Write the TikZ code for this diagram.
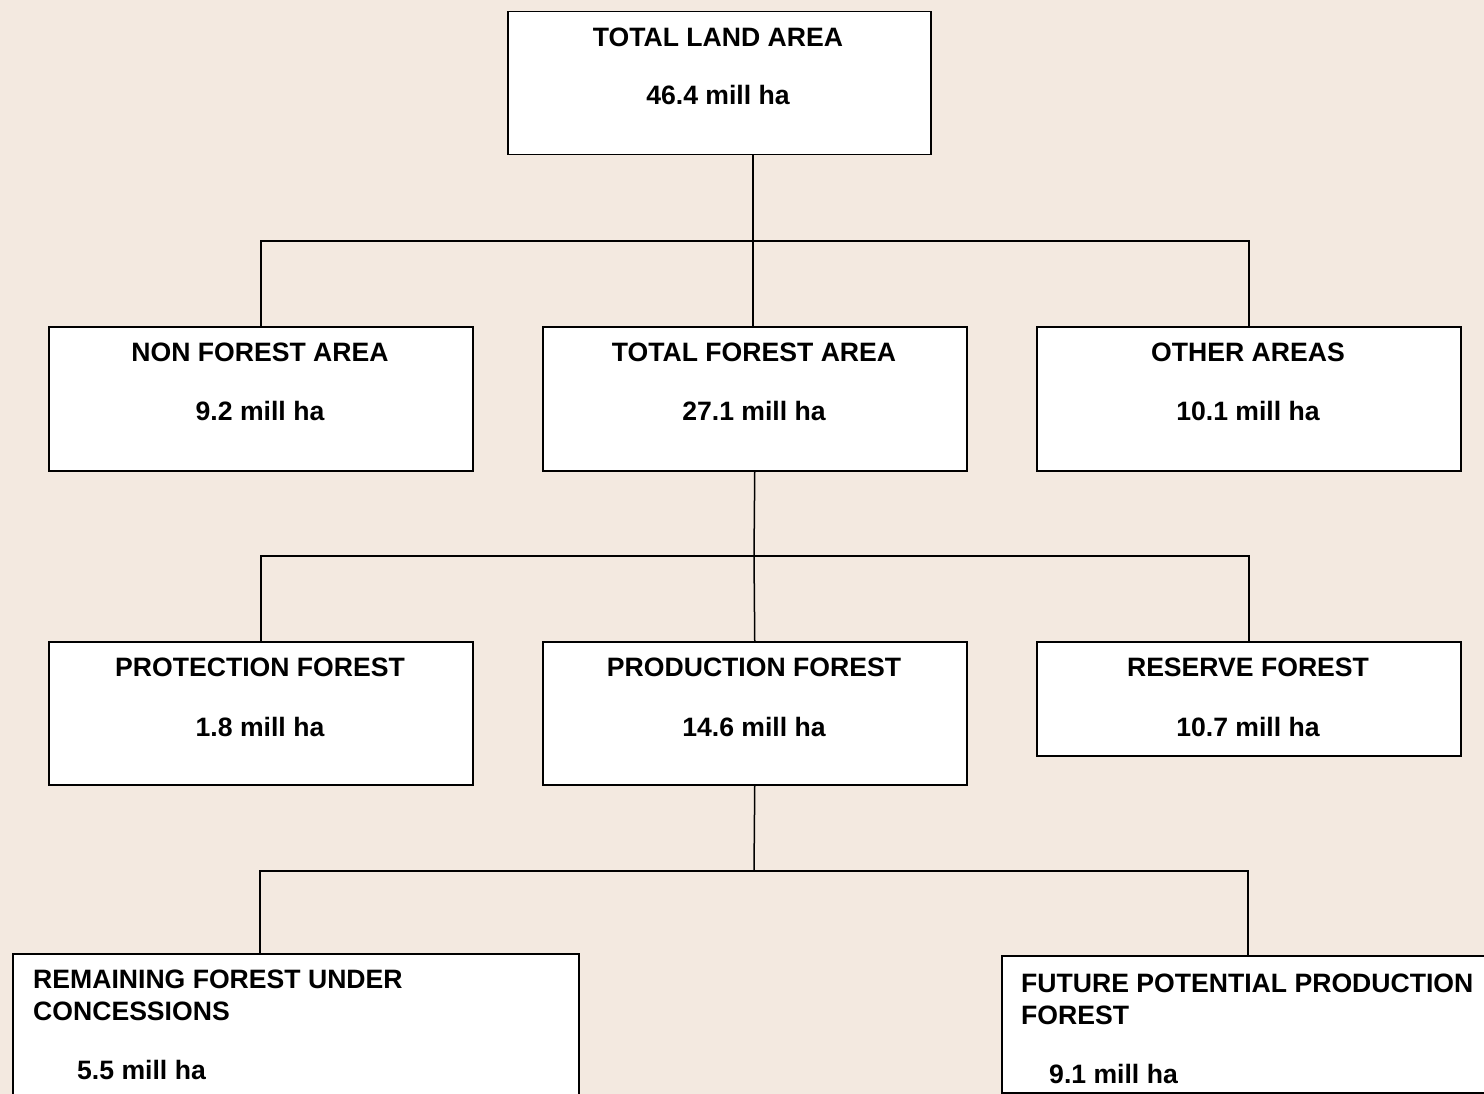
\documentclass[tikz,border=0pt]{standalone}
\usepackage{fontspec}
\setmainfont{Liberation Sans}
\definecolor{bgcol}{RGB}{243,233,224}
\begin{document}
\begin{tikzpicture}[x=1pt,y=-1pt,
  box/.style={draw=black, fill=white, line width=1.5pt, rectangle, inner sep=0pt, anchor=north west},
  lbl/.style={font=\fontsize{26.6}{32}\selectfont\bfseries, inner sep=0pt, anchor=base},
  lbll/.style={lbl, anchor=base west},
  conn/.style={line width=1.5pt}]
\useasboundingbox (0,0) rectangle (1484,1094);
\clip (0,0) rectangle (1484,1094);
\fill[bgcol] (0,0) rectangle (1484,1094);
% boxes
\node[box, minimum width=423pt, minimum height=143pt] (land) at (507,11) {};
\node[box, minimum width=424pt, minimum height=144pt] (nonf) at (48,326) {};
\node[box, minimum width=424pt, minimum height=144pt] (tfor) at (542,326) {};
\node[box, minimum width=424pt, minimum height=144pt] (other) at (1036,326) {};
\node[box, minimum width=424pt, minimum height=143pt] (prot) at (48,641) {};
\node[box, minimum width=424pt, minimum height=143pt] (prod) at (542,641) {};
\node[box, minimum width=424pt, minimum height=114pt] (res) at (1036,641) {};
\node[box, minimum width=566pt, minimum height=160pt] (rem) at (12,953) {};
\node[box, minimum width=500pt, minimum height=137pt] (fut) at (1001,955) {};
% labels
\node[lbl] (landT) at (718,47) {TOTAL LAND AREA};
\node[lbl] (landV) at (718,105) {46.4 mill ha};
\node[lbl] (nonfT) at (260,361) {NON FOREST AREA};
\node[lbl] (nonfV) at (260,420) {9.2 mill ha};
\node[lbl] (tforT) at (754,361) {TOTAL FOREST AREA};
\node[lbl] (tforV) at (754,420) {27.1 mill ha};
\node[lbl] (otherT) at (1248,361) {OTHER AREAS};
\node[lbl] (otherV) at (1248,420) {10.1 mill ha};
\node[lbl] (protT) at (260,676) {PROTECTION FOREST};
\node[lbl] (protV) at (260,736) {1.8 mill ha};
\node[lbl] (prodT) at (754,676) {PRODUCTION FOREST};
\node[lbl] (prodV) at (754,736) {14.6 mill ha};
\node[lbl] (resT) at (1248,676) {RESERVE FOREST};
\node[lbl] (resV) at (1248,736) {10.7 mill ha};
\node[lbll] (remT1) at (33,988) {REMAINING FOREST UNDER};
\node[lbll] (remT2) at (33,1020) {CONCESSIONS};
\node[lbll] (remV) at (77,1079) {5.5 mill ha};
\node[lbll] (futT1) at (1021,992) {FUTURE POTENTIAL PRODUCTION};
\node[lbll] (futT2) at (1021,1024) {FOREST};
\node[lbll] (futV) at (1049,1083) {9.1 mill ha};
% connectors
\coordinate (j1) at (753,241);
\draw[conn] (land.south -| j1) -- (j1);
\draw[conn] (nonf.north) |- (j1) -| (other.north);
\draw[conn] (j1 |- tfor.north) -- (j1);
\coordinate (j2) at (754,556);
\draw[conn] (tfor.south) -- (j2);
\draw[conn] (prot.north) |- (j2) -| (res.north);
\draw[conn] (j2) -- (prod.north);
\coordinate (j3) at (754,871);
\coordinate (l4) at (260,871);
\coordinate (r4) at (1248,871);
\draw[conn] (prod.south) -- (j3);
\draw[conn] (l4 |- rem.north) -- (l4) -- (r4) -- (r4 |- fut.north);
\end{tikzpicture}
\end{document}
